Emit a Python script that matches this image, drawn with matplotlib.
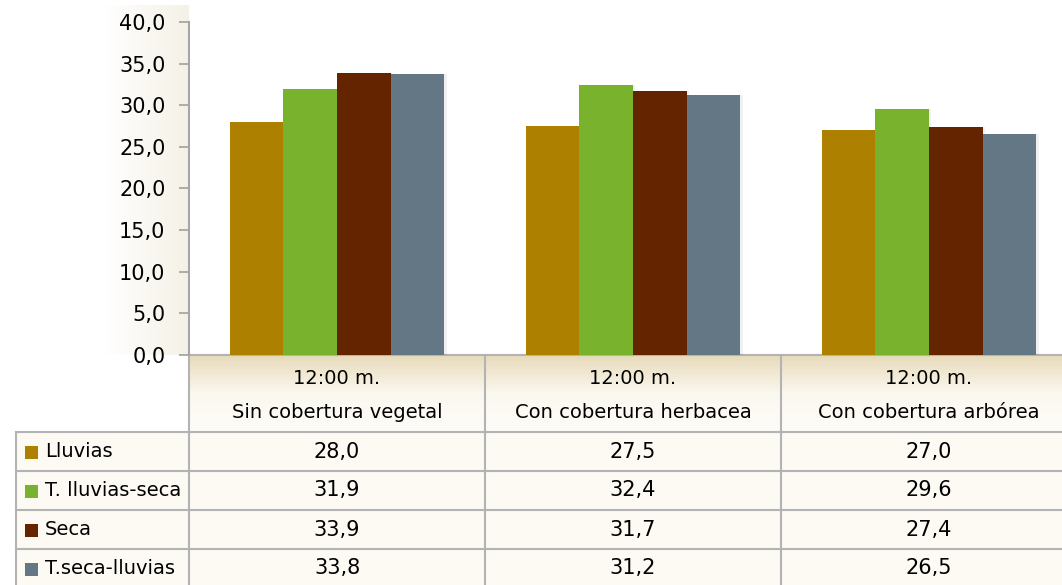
import matplotlib
matplotlib.use("Agg")
import matplotlib.pyplot as plt
import numpy as np
from matplotlib.transforms import blended_transform_factory
from matplotlib.patches import Rectangle

categories = ["Sin cobertura vegetal", "Con cobertura herbacea", "Con cobertura arbórea"]
time_label = "12:00 m."
series_names = ["Lluvias", "T. lluvias-seca", "Seca", "T.seca-lluvias"]
values = {
    "Lluvias": [28.0, 27.5, 27.0],
    "T. lluvias-seca": [31.9, 32.4, 29.6],
    "Seca": [33.9, 31.7, 27.4],
    "T.seca-lluvias": [33.8, 31.2, 26.5],
}
colors = ["#ad8000", "#79b22d", "#652400", "#637884"]
yticks = [0, 5, 10, 15, 20, 25, 30, 35, 40]

FONT = "DejaVu Sans"
TFS = 14
W, H = 1062, 585
fig = plt.figure(figsize=(W / 100, H / 100), dpi=100)
fig.patch.set_facecolor("white")

bg = fig.add_axes([0, 0, 1, 1], zorder=0)
bg.axis("off")

x0, x1 = 189, 1077
ytop, ybot = 22, 355
ax = fig.add_axes([x0 / W, 1 - ybot / H, (x1 - x0) / W, (ybot - ytop) / H], zorder=2)
ax.set_facecolor("none")
n = len(categories)
ax.set_xlim(0, n)
ax.set_ylim(0, 40)

bw = 0.181
xc = np.arange(n) + 0.5
for i, name in enumerate(series_names):
    xs = xc + (i - 1.5) * bw
    ax.bar(xs + 0.008, values[name], width=bw, color="#000000", alpha=0.06, zorder=1, linewidth=0)
    ax.bar(xs, values[name], width=bw, color=colors[i], zorder=2, linewidth=0)

for s in ["top", "right", "bottom"]:
    ax.spines[s].set_visible(False)
ax.spines["left"].set_color("#a6a6a6")
ax.spines["left"].set_linewidth(1.5)
ax.set_yticks(yticks)
ax.set_yticklabels([f"{v:.1f}".replace(".", ",") for v in yticks], fontsize=15, family=FONT)
ax.tick_params(axis="y", length=7, width=1.3, color="#a6a6a6", pad=10)
ax.set_xticks([])

# soft background tints
hgrad = np.linspace(0, 1, 100).reshape(1, -1)
cm_left = matplotlib.colors.LinearSegmentedColormap.from_list("lft", ["#ffffff", "#f5f1e6"])
bg.imshow(hgrad, extent=(105, 189, ybot, 5), aspect="auto", cmap=cm_left, zorder=0)
bg.add_patch(Rectangle((16, 432), W, H - 432, color="#fcfaf3", lw=0, zorder=0))
grad = np.linspace(0, 1, 100).reshape(-1, 1)
cmap = matplotlib.colors.LinearSegmentedColormap.from_list("hdr", ["#e8dbbb", "#fbf8ef", "#fdfcf8"])
bg.imshow(grad, extent=(189, W, 432, 355), aspect="auto", cmap=cmap, zorder=0.5)
bg.set_xlim(0, W)
bg.set_ylim(H, 0)

tr = blended_transform_factory(ax.transData, bg.transData)

lc = "#b3b3b3"
lw = 1.5
bg.plot([x0, W], [ybot, ybot], color=lc, lw=lw, zorder=1)
row_ys = [432, 471, 510, 549]
for y in row_ys:
    bg.plot([16, W], [y, y], color=lc, lw=lw, zorder=1)
bg.plot([16, 16], [432, H], color=lc, lw=lw, zorder=1)
for k in range(n + 1):
    bg.plot([k, k], [ybot, H + 5], color=lc, lw=lw, transform=tr, zorder=1, clip_on=False)

for k, cat in enumerate(categories):
    bg.text(xc[k], 379, time_label, transform=tr, ha="center", va="center", fontsize=TFS, family=FONT)
    bg.text(xc[k], 413, cat, transform=tr, ha="center", va="center", fontsize=TFS, family=FONT)

row_centers = [451.5, 490.5, 529.5, 568.5]
for i, name in enumerate(series_names):
    yc = row_centers[i]
    bg.add_patch(Rectangle((25, yc - 6), 13, 13, color=colors[i], lw=0, zorder=2))
    bg.text(45, yc, name, ha="left", va="center", fontsize=TFS, family=FONT, zorder=3)
    for k in range(n):
        bg.text(xc[k], yc, f"{values[name][k]:.1f}".replace(".", ","), transform=tr,
                ha="center", va="center", fontsize=15, family=FONT, zorder=3)

fig.savefig("out.png", dpi=100)
